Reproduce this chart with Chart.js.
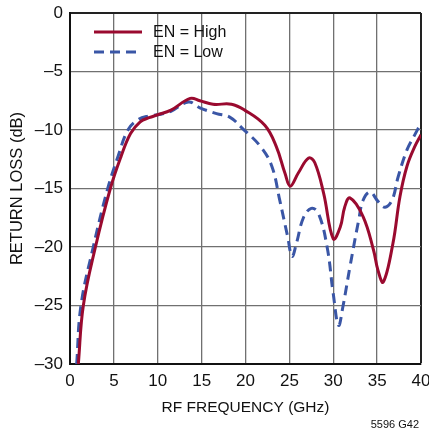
<!DOCTYPE html>
<html>
<head>
<meta charset="utf-8">
<script src="https://cdn.jsdelivr.net/npm/chart.js@4/dist/chart.umd.min.js"></script>
<style>
  html, body { margin: 0; padding: 0; background: #fff; }
  #wrap { width: 429px; height: 434px; position: relative; }
</style>
</head>
<body>
<div id="wrap"><canvas id="rl-canvas" width="429" height="434"></canvas></div>
<script>
// values (GHz, dB)
const freqHigh = [0.95, 1.52, 2.9, 4.6, 5.8, 6.9, 8, 9, 10, 11.5, 13.7, 14.8, 16.3, 18.4, 19.9, 22.2, 23.5,
    24.5, 25.1, 26, 27.2, 27.9, 28.9, 30, 30.8, 31.3, 31.9, 33.4, 34.6, 35.1, 35.7, 36.8,
    37.6, 38.4, 39.3, 40];
const lossHigh = [-30, -25, -20, -15, -12.3, -10.3, -9.3, -8.95, -8.7, -8.3, -7.3, -7.5, -7.8, -7.8, -8.3, -9.6, -11.4,
    -13.7, -14.8, -13.7, -12.4, -12.8, -15.4, -19.3, -18.3, -16.6, -15.8, -17.4, -20.3, -22, -23, -19.7,
    -15.7, -13.1, -11.4, -10.4];
const freqLow = [0.76, 1.25, 2.65, 4.3, 5.5, 6.6, 7.8, 9, 10, 11.5, 13.5, 14.8, 16.7, 18.2, 19.7, 21.7,
    23, 23.9, 24.8, 25.3, 25.8, 26.6, 27.5, 28.3, 29.3, 30, 30.6, 31.1, 31.9, 32.9, 33.4,
    34.2, 35.1, 35.9, 36.7, 37.4, 38.4, 39.3, 40];
const lossLow = [-30, -25, -20, -15, -12.2, -10, -9.1, -8.8, -8.7, -8.4, -7.6, -8.1, -8.6, -8.9, -9.9, -11.4,
    -13.1, -16, -19.1, -20.8, -19.7, -17.5, -16.7, -17.1, -20, -24, -26.7, -25.1, -21.7, -17.7, -16,
    -15.3, -16.1, -16.6, -16, -14, -11.7, -10.4, -9.4];
const seriesNames = ['EN = High', 'EN = Low'];
const xTitle = 'RF FREQUENCY (GHz)';
const yTitle = 'RETURN LOSS (dB)';
const figNote = '5596 G42';

const FONT = '"Liberation Sans", Arial, sans-serif';
const RED = '#9a0a2f';
const BLUE = '#3a56a6';

function toPoints(xs, ys) {
    return xs.map((x, i) => ({x: x, y: ys[i]}));
}

// legend inside the plot, top left
const insideLegend = {
    id: 'insideLegend',
    afterDatasetsDraw(chart) {
        const ctx = chart.ctx;
        const a = chart.chartArea;
        ctx.save();
        ctx.font = '16px ' + FONT;
        ctx.textBaseline = 'middle';
        chart.data.datasets.forEach((ds, i) => {
            const y = a.top + 19 + i * 20;
            const x0 = a.left + 24;
            ctx.strokeStyle = ds.borderColor;
            ctx.lineWidth = 3;
            ctx.setLineDash(ds.borderDash || []);
            ctx.beginPath();
            ctx.moveTo(x0, y);
            ctx.lineTo(x0 + 48, y);
            ctx.stroke();
            ctx.setLineDash([]);
            ctx.fillStyle = '#111';
            ctx.fillText(ds.label, x0 + 59, y + 1);
        });
        ctx.font = '11px ' + FONT;
        ctx.textAlign = 'right';
        ctx.fillText(figNote, 419, 425);
        ctx.restore();
    }
};

const chart = new Chart(document.querySelector('#rl-canvas').getContext('2d'), {
    type: 'line',
    data: {
        datasets: [
            {
                label: seriesNames[0],
                data: toPoints(freqHigh, lossHigh),
                borderColor: RED,
                borderWidth: 3,
                pointRadius: 0,
                tension: 0.4,
            },
            {
                label: seriesNames[1],
                data: toPoints(freqLow, lossLow),
                borderColor: BLUE,
                borderWidth: 3,
                borderDash: [10, 6],
                pointRadius: 0,
                tension: 0.4,
            },
        ],
    },
    options: {
        animation: false,
        responsive: false,
        layout: {padding: {top: 13, right: 8, left: 0, bottom: 0}},
        scales: {
            x: {
                type: 'linear',
                min: 0,
                max: 40,
                afterFit: s => {
                    s.height = 70;
                    s.paddingLeft = 0;
                    s.paddingRight = 0;
                },
                ticks: {
                    stepSize: 5,
                    padding: 7,
                    color: '#111',
                    font: {family: FONT, size: 17},
                    maxRotation: 0,
                },
                grid: {
                    drawTicks: false,
                    color: ctx => (ctx.tick.value === 40 ? '#222' : '#707070'),
                    lineWidth: ctx => (ctx.tick.value === 40 ? 2 : 1.3),
                },
                border: {color: '#111', width: 2},
                title: {
                    display: true,
                    text: xTitle,
                    color: '#111',
                    font: {family: FONT, size: 15.5},
                    padding: {top: 0, bottom: 17},
                },
            },
            y: {
                min: -30,
                max: 0,
                afterFit: s => {
                    s.width = 70;
                    s.paddingTop = 0;
                    s.paddingBottom = 0;
                },
                ticks: {
                    stepSize: 5,
                    padding: 7,
                    color: '#111',
                    font: {family: FONT, size: 17},
                    callback: v => String(v).replace('-', '\u2013'),
                },
                grid: {
                    drawTicks: false,
                    color: ctx => (ctx.tick.value === 0 ? '#222' : '#707070'),
                    lineWidth: ctx => (ctx.tick.value === 0 ? 2 : 1.3),
                },
                border: {color: '#111', width: 2},
                title: {
                    display: true,
                    text: yTitle,
                    color: '#111',
                    font: {family: FONT, size: 16.5},
                    padding: {top: 8, bottom: 0},
                },
            },
        },
        plugins: {
            legend: {display: false},
            tooltip: {enabled: false},
        },
    },
    plugins: [insideLegend],
});
</script>
</body>
</html>
